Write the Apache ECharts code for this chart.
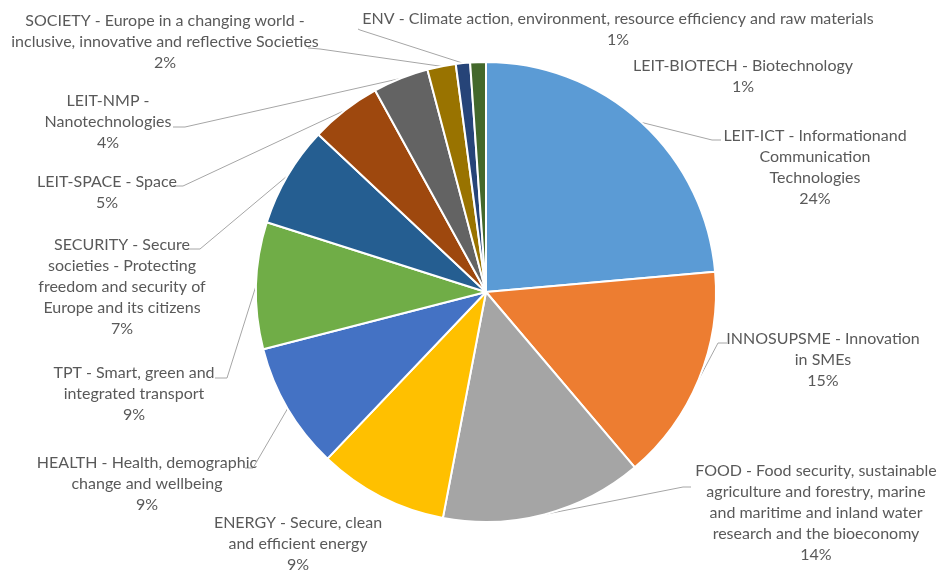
<!DOCTYPE html>
<html>
<head>
<meta charset="utf-8">
<script src="https://cdn.jsdelivr.net/npm/echarts@6/dist/echarts.min.js"></script>
<style>
  html, body { margin: 0; padding: 0; background: #fff; }
  #chart { width: 939px; height: 570px; }
</style>
</head>
<body>
<div id="chart"></div>
<script>
// categories, clockwise from 12 o'clock
const categories = [
  'LEIT-ICT - Informationand\nCommunication\nTechnologies',
  'INNOSUPSME - Innovation\nin SMEs',
  'FOOD - Food security, sustainable\nagriculture and forestry, marine\nand maritime and inland water\nresearch and the bioeconomy',
  'ENERGY - Secure, clean\nand efficient energy',
  'HEALTH - Health, demographic\nchange and wellbeing',
  'TPT - Smart, green and\nintegrated transport',
  'SECURITY - Secure\nsocieties - Protecting\nfreedom and security of\nEurope and its citizens',
  'LEIT-SPACE - Space',
  'LEIT-NMP -\nNanotechnologies',
  'SOCIETY - Europe in a changing world -\ninclusive, innovative and reflective Societies',
  'ENV - Climate action, environment, resource efficiency and raw materials',
  'LEIT-BIOTECH - Biotechnology'
];

// share of each topic (percent)
const shares = [23.6, 15.2, 14.2, 9.1, 8.9, 8.9, 7.1, 5.0, 3.9, 2.0, 1.0, 1.1];

const colors = [
  '#5B9BD5', '#ED7D31', '#A5A5A5', '#FFC000', '#4472C4', '#70AD47',
  '#255E91', '#9E480E', '#636363', '#997300', '#264478', '#43682B'
];

// label block centres (layout only)
const labelPos = [
  [815, 167], [823, 360], [816, 513], [298, 544], [147, 484], [134, 394],
  [122, 287], [107, 192], [108, 122], [165, 42], [618, 29], [743, 76]
];
// where each leader line meets its label: [bend, end], null = no line
const leaderEnds = [
  [[712, 140], [721, 140]],
  [[718, 343], [727, 343]],
  [[683, 487], [691, 487]],
  null,
  [[253, 468], [245, 468]],
  [[227, 378], [215, 378]],
  [[200, 249], [188, 249]],
  [[183, 186], [173, 186]],
  [[185, 127], [173, 127]],
  [[320, 49], [308, 48]],
  [[360, 30], [358, 29]],
  null
];

const CX = 486, CY = 292, R = 230;
const total = shares.reduce((a, b) => a + b, 0);
let acc = 0;
const midAngles = shares.map((v) => {
  const a = (acc + v / 2) / total * Math.PI * 2;
  acc += v;
  return a;
});

const chart = echarts.init(document.getElementById('chart'));

chart.setOption({
  animation: false,
  color: colors,
  series: [
    {
      type: 'pie',
      center: [CX, CY],
      radius: [0, R],
      startAngle: 90,
      clockwise: true,
      percentPrecision: 0,
      itemStyle: { borderColor: '#fff', borderWidth: 2 },
      label: {
        show: true,
        position: 'outside',
        formatter: '{b}\n{d}%',
        color: '#595959',
        fontFamily: 'Lato',
        fontSize: 16,
        lineHeight: 21,
        align: 'center',
        width: 600,
        overflow: 'none'
      },
      labelLine: {
        show: true,
        length: 10,
        length2: 10,
        smooth: false,
        lineStyle: { color: '#A6A6A6', width: 1 }
      },
      labelLayout: function (params) {
        const i = params.dataIndex;
        const p = labelPos[i];
        const out = { x: p[0], y: p[1], align: 'center', verticalAlign: 'middle' };
        const le = leaderEnds[i];
        if (le) {
          const a = midAngles[i];
          const start = [CX + R * Math.sin(a), CY - R * Math.cos(a)];
          out.labelLinePoints = [start, le[0], le[1]];
        }
        return out;
      },
      emphasis: { disabled: true },
      data: categories.map((name, i) => ({
        name: name,
        value: shares[i],
        labelLine: { show: leaderEnds[i] !== null }
      }))
    }
  ]
});
</script>
</body>
</html>
